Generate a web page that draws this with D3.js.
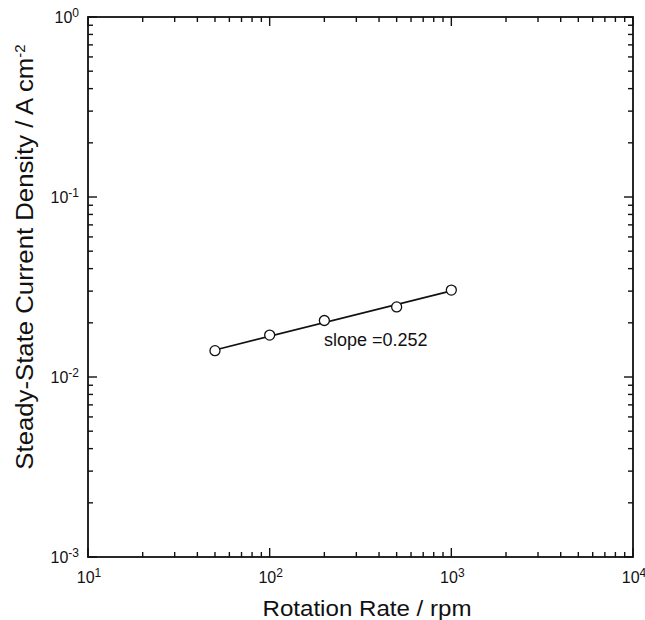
<!DOCTYPE html>
<html><head><meta charset="utf-8">
<script src="https://cdn.jsdelivr.net/npm/d3@7"></script>
<style>body{margin:0;background:#fff}svg{display:block}text{font-family:"Liberation Sans",Arial,sans-serif;fill:#111}</style>
</head><body>
<script>
const rates = [50, 100, 200, 500, 1000];
const currents = [0.0140, 0.0171, 0.0206, 0.0245, 0.0304];
const fitX = [50, 1000];
const fitY = [0.01414, 0.0301];
const xTickExps = [1, 2, 3, 4];
const yTickExps = [-3, -2, -1, 0];
const slopeLabel = "slope =0.252";

const W = 645, H = 620;
const m = {l: 88, t: 17, r: 12, b: 63};
const svg = d3.select("body").append("svg").attr("width", W).attr("height", H);
const x = d3.scaleLog().domain([10, 10000]).range([m.l, W - m.r]);
const y = d3.scaleLog().domain([0.001, 1]).range([H - m.b, m.t]);
const g = svg.append("g");

function minorVals(lo, hi) {
  const out = [];
  for (let e = lo; e < hi; e++) for (let k = 2; k <= 9; k++) out.push(k * Math.pow(10, e));
  return out;
}
const xMajor = xTickExps.map(e => Math.pow(10, e));
const yMajor = yTickExps.map(e => Math.pow(10, e));
const xMinor = minorVals(1, 4), yMinor = minorVals(-3, 0);

const tk = g.append("g").attr("stroke", "#111").attr("stroke-width", 1.4);
const x0 = x.range()[0], x1 = x.range()[1], y0 = y.range()[0], y1 = y.range()[1];
const addX = (vals, len) => vals.forEach(v => {
  tk.append("line").attr("x1", x(v)).attr("x2", x(v)).attr("y1", y0).attr("y2", y0 - len);
  tk.append("line").attr("x1", x(v)).attr("x2", x(v)).attr("y1", y1).attr("y2", y1 + len);
});
const addY = (vals, len) => vals.forEach(v => {
  tk.append("line").attr("y1", y(v)).attr("y2", y(v)).attr("x1", x0).attr("x2", x0 + len);
  tk.append("line").attr("y1", y(v)).attr("y2", y(v)).attr("x1", x1).attr("x2", x1 - len);
});
addX(xMajor, 9); addX(xMinor, 5); addY(yMajor, 9); addY(yMinor, 5);

g.append("rect").attr("x", x0).attr("y", y1).attr("width", x1 - x0).attr("height", y0 - y1)
  .attr("fill", "none").attr("stroke", "#111").attr("stroke-width", 1.8);

// tick labels
xTickExps.forEach(e => {
  const t = g.append("text").attr("x", x(Math.pow(10, e)) + 1).attr("y", y0 + 26)
    .attr("text-anchor", "middle").attr("font-size", 16);
  t.append("tspan").text("10");
  t.append("tspan").attr("dy", -6).attr("font-size", 12).text(e);
});
yTickExps.forEach(e => {
  const t = g.append("text").attr("x", x0 - 9).attr("y", y(Math.pow(10, e)) + 6)
    .attr("text-anchor", "end").attr("font-size", 16);
  t.append("tspan").text("10");
  t.append("tspan").attr("dy", -6).attr("font-size", 12).text(e);
});

// axis titles
g.append("text").attr("x", 367).attr("y", 616).attr("text-anchor", "middle")
  .attr("font-size", 22).attr("textLength", 209).attr("lengthAdjust", "spacingAndGlyphs")
  .text("Rotation Rate / rpm");
const yt = g.append("text").attr("transform", `translate(33,257) rotate(-90)`)
  .attr("text-anchor", "middle").attr("font-size", 23);
yt.append("tspan").attr("textLength", 412).attr("lengthAdjust", "spacingAndGlyphs")
  .text("Steady-State Current Density / A cm");
yt.append("tspan").attr("dy", -8).attr("font-size", 15).text("-2");

// fit line
const line = d3.line().x(d => x(d[0])).y(d => y(d[1]));
g.append("path").datum(d3.zip(fitX, fitY)).attr("d", line)
  .attr("fill", "none").attr("stroke", "#111").attr("stroke-width", 1.6);

// points
g.selectAll("circle.pt").data(d3.zip(rates, currents)).enter().append("circle")
  .attr("cx", d => x(d[0])).attr("cy", d => y(d[1])).attr("r", 5)
  .attr("fill", "#fff").attr("stroke", "#111").attr("stroke-width", 1.3);

g.append("text").attr("x", 324).attr("y", 346).attr("font-size", 18).text(slopeLabel);
</script>
</body></html>
